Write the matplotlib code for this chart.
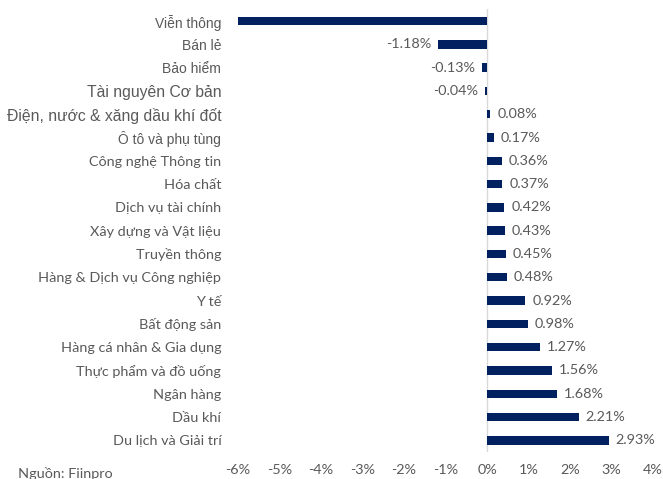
import matplotlib
matplotlib.use("Agg")
import matplotlib.pyplot as plt

categories = ["Viễn thông", "Bán lẻ", "Bảo hiểm", "Tài nguyên Cơ bản",
              "Điện, nước & xăng dầu khí đốt", "Ô tô và phụ tùng",
              "Công nghệ Thông tin", "Hóa chất", "Dịch vụ tài chính",
              "Xây dựng và Vật liệu", "Truyền thông", "Hàng & Dịch vụ Công nghiệp",
              "Y tế", "Bất động sản", "Hàng cá nhân & Gia dụng",
              "Thực phẩm và đồ uống", "Ngân hàng", "Dầu khí", "Du lịch và Giải trí"]
values = [-6.5, -1.18, -0.13, -0.04, 0.08, 0.17, 0.36, 0.37, 0.42, 0.43,
          0.45, 0.48, 0.92, 0.98, 1.27, 1.56, 1.68, 2.21, 2.93]
xticks = [-6, -5, -4, -3, -2, -1, 0, 1, 2, 3, 4]

navy = "#002060"
gray = "#595959"

fig = plt.figure(figsize=(6.63, 4.79), dpi=100)
ax = fig.add_axes([0.359, 0.0564, 0.626, 0.924])
y = list(range(len(categories)))
ax.barh(y, values, height=0.36, color=navy, zorder=3)
ax.set_xlim(-6, 4)
ax.set_ylim(len(categories) - 0.5, -0.5)
ax.axvline(0, color="#d9d9d9", lw=1, zorder=2)
for s in ax.spines.values():
    s.set_visible(False)
ax.set_xticks(xticks)
ax.set_xticklabels([f"{t}%" for t in xticks], color=gray, fontsize=10.4, family="Lato")
ax.tick_params(axis="x", length=0, pad=9)
ax.tick_params(axis="y", length=0, pad=12)
ax.set_yticks(y)
ax.set_yticklabels(categories)
for i, lab in enumerate(ax.get_yticklabels()):
    lab.set_color(gray)
    if i in (3, 4):
        lab.set_fontfamily("Liberation Sans")
        lab.set_fontsize(11.3)
    elif i in (0, 1, 2, 5):
        lab.set_fontfamily("Liberation Sans")
        lab.set_fontsize(10)
    else:
        lab.set_fontfamily("Lato")
        lab.set_fontsize(10.4)

for yi, v in zip(y, values):
    if v < -6 or v > 4:
        continue
    txt = f"{v:.2f}%"
    if v >= 0:
        ax.annotate(txt, (v, yi), xytext=(5, 0), textcoords="offset points",
                    ha="left", va="center", color=gray, fontsize=10.4, family="Lato")
    else:
        ax.annotate(txt, (v, yi), xytext=(-5, 0), textcoords="offset points",
                    ha="right", va="center", color=gray, fontsize=10.4, family="Lato")

fig.text(18 / 663, 1 - 478 / 479, "Nguồn: Fiinpro", color=gray, fontsize=10.4,
         family="Lato", ha="left", va="baseline")

fig.savefig("out.png", dpi=100)
